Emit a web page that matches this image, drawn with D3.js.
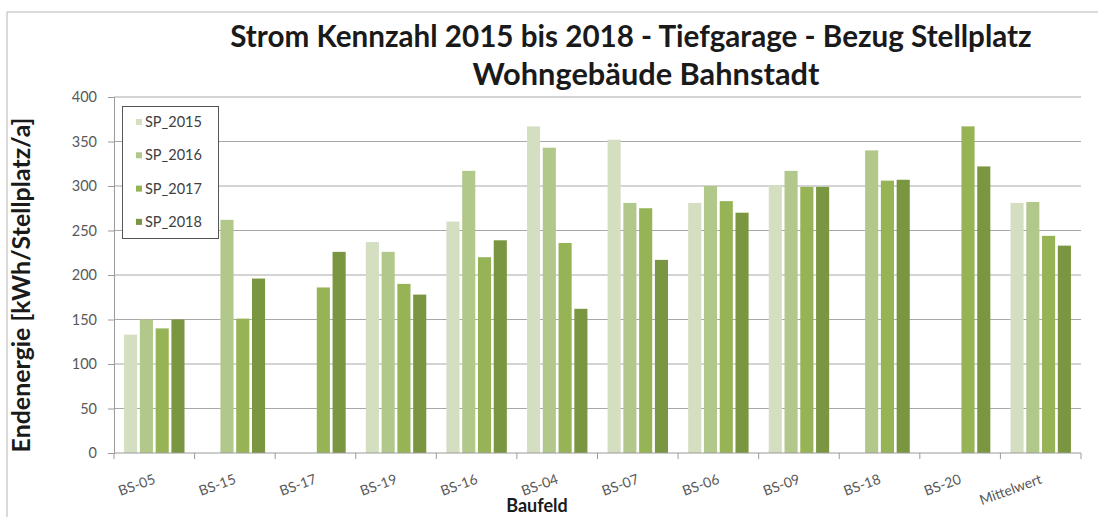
<!DOCTYPE html>
<html>
<head>
<meta charset="utf-8">
<script src="https://cdn.jsdelivr.net/npm/d3@7"></script>
<style>
    body { margin: 0; background: #fff; }
    svg { display: block; font-family: Lato, "Open Sans", sans-serif; }
    .tick text { fill: #595959; }
</style>
</head>
<body>
<div id="container"></div>
<script>
"use strict";

// data
const CATEGORIES = ["BS-05", "BS-15", "BS-17", "BS-19", "BS-16", "BS-04", "BS-07", "BS-06", "BS-09", "BS-18", "BS-20", "Mittelwert"];
const SP_2015 = [133, null, null, 237, 260, 367, 352, 281, 301, null, null, 281];
const SP_2016 = [150, 262, null, 226, 317, 343, 281, 300, 317, 340, null, 282];
const SP_2017 = [140, 151, 186, 190, 220, 236, 275, 283, 299, 306, 367, 244];
const SP_2018 = [150, 196, 226, 178, 239, 162, 217, 270, 299, 307, 322, 233];
const SERIES_NAMES = ["SP_2015", "SP_2016", "SP_2017", "SP_2018"];
const Y_TICKS = [0, 50, 100, 150, 200, 250, 300, 350, 400];

const TITLE_1 = "Strom Kennzahl 2015 bis 2018 - Tiefgarage - Bezug Stellplatz";
const TITLE_2 = "Wohngebäude Bahnstadt";
const Y_TITLE = "Endenergie [kWh/Stellplatz/a]";
const X_TITLE = "Baufeld";

const COLORS = ["#d3dfc0", "#b1c88a", "#96b355", "#7a9640"];

const WIDTH = 1098;
const HEIGHT = 517;
const PLOT = { left: 114, right: 1081, top: 97, bottom: 453 };

const SVG = d3.select("div#container").append("svg")
    .attr("width", WIDTH)
    .attr("height", HEIGHT);

const seriesData = [SP_2015, SP_2016, SP_2017, SP_2018];

// chart frame (cropped at right and bottom)
SVG.append("path")
    .attr("d", `M7,${HEIGHT} V12 H${WIDTH}`)
    .attr("fill", "none")
    .attr("stroke", "#b4b4b4");

const xScale = d3.scaleBand()
    .domain(CATEGORIES)
    .range([PLOT.left, PLOT.right])
    .paddingInner(0.25)
    .paddingOuter(0.125);

const xInner = d3.scaleBand()
    .domain(SERIES_NAMES)
    .range([0, xScale.bandwidth()])
    .paddingInner(0.17);

const yScale = d3.scaleLinear()
    .domain([0, 400])
    .range([PLOT.bottom, PLOT.top]);

// gridlines
SVG.append("g")
    .selectAll("line")
    .data(Y_TICKS.filter(d => d > 0))
    .join("line")
    .attr("x1", PLOT.left)
    .attr("x2", PLOT.right)
    .attr("y1", d => yScale(d))
    .attr("y2", d => yScale(d))
    .attr("stroke", "#a8a8a8");

// y axis
const yaxis = d3.axisLeft(yScale).tickValues(Y_TICKS).tickSize(6).tickPadding(11);
const yG = SVG.append("g")
    .attr("transform", `translate(${PLOT.left},0)`)
    .call(yaxis);
yG.select(".domain").attr("stroke", "#9a9a9a");
yG.selectAll(".tick line").attr("stroke", "#9a9a9a");
yG.selectAll(".tick text").style("font-size", "14.5px").attr("font-family", "Lato, sans-serif");

// bars
const step = xScale.step();
SERIES_NAMES.forEach(function (name, si) {
    SVG.append("g")
        .selectAll("rect")
        .data(CATEGORIES.map((c, i) => ({ cat: c, value: seriesData[si][i] })).filter(d => d.value != null))
        .join("rect")
        .attr("x", d => xScale(d.cat) + xInner(name))
        .attr("width", xInner.bandwidth())
        .attr("y", d => yScale(d.value))
        .attr("height", d => yScale(0) - yScale(d.value))
        .attr("fill", COLORS[si]);
});

// x axis with ticks at category boundaries
const xG = SVG.append("g").attr("transform", `translate(0,${PLOT.bottom})`);
xG.append("line")
    .attr("x1", PLOT.left).attr("x2", PLOT.right)
    .attr("stroke", "#9a9a9a");
xG.selectAll("line.bound")
    .data(d3.range(CATEGORIES.length + 1))
    .join("line")
    .attr("class", "bound")
    .attr("x1", i => PLOT.left + i * step)
    .attr("x2", i => PLOT.left + i * step)
    .attr("y1", 0).attr("y2", 6)
    .attr("stroke", "#9a9a9a");
xG.selectAll("text")
    .data(CATEGORIES)
    .join("text")
    .attr("transform", d => `translate(${xScale(d) + xScale.bandwidth() / 2 + 2},${30}) rotate(-20)`)
    .attr("text-anchor", "end")
    .attr("fill", "#595959")
    .style("font-size", "14px")
    .text(d => d);

// titles
function fitText(sel, width) {
    const w = sel.node().getComputedTextLength();
    const fs = parseFloat(sel.style("font-size"));
    sel.style("font-size", (fs * width / w) + "px");
}

const t1 = SVG.append("text")
    .attr("x", 631).attr("y", 47)
    .attr("text-anchor", "middle")
    .attr("fill", "#1a1a1a")
    .style("font-size", "24px").style("font-weight", "bold")
    .text(TITLE_1);
fitText(t1, 802);

const t2 = SVG.append("text")
    .attr("x", 646).attr("y", 85)
    .attr("text-anchor", "middle")
    .attr("fill", "#1a1a1a")
    .style("font-size", "24px").style("font-weight", "bold")
    .text(TITLE_2);
fitText(t2, 347);

const yt = SVG.append("text")
    .attr("transform", `translate(30,285) rotate(-90)`)
    .attr("text-anchor", "middle")
    .attr("fill", "#1a1a1a")
    .style("font-size", "17px").style("font-weight", "bold")
    .text(Y_TITLE);
fitText(yt, 335);

SVG.append("text")
    .attr("x", 537).attr("y", 512)
    .attr("text-anchor", "middle")
    .attr("fill", "#1a1a1a")
    .style("font-size", "18px").style("font-weight", "bold")
    .text(X_TITLE);

// legend
const legend = SVG.append("g");
legend.append("rect")
    .attr("x", 122.5).attr("y", 106.5)
    .attr("width", 96).attr("height", 132)
    .attr("fill", "#fff")
    .attr("stroke", "#555");
const items = legend.selectAll("g.item")
    .data(SERIES_NAMES)
    .join("g")
    .attr("class", "item")
    .attr("transform", (d, i) => `translate(0,${122 + i * 33.3})`);
items.append("rect")
    .attr("x", 136).attr("y", -3)
    .attr("width", 6).attr("height", 6)
    .attr("fill", (d, i) => COLORS[i]);
items.append("text")
    .attr("x", 145).attr("dy", "0.35em")
    .attr("fill", "#404040")
    .style("font-size", "14.5px")
    .text(d => d);
</script>
</body>
</html>
